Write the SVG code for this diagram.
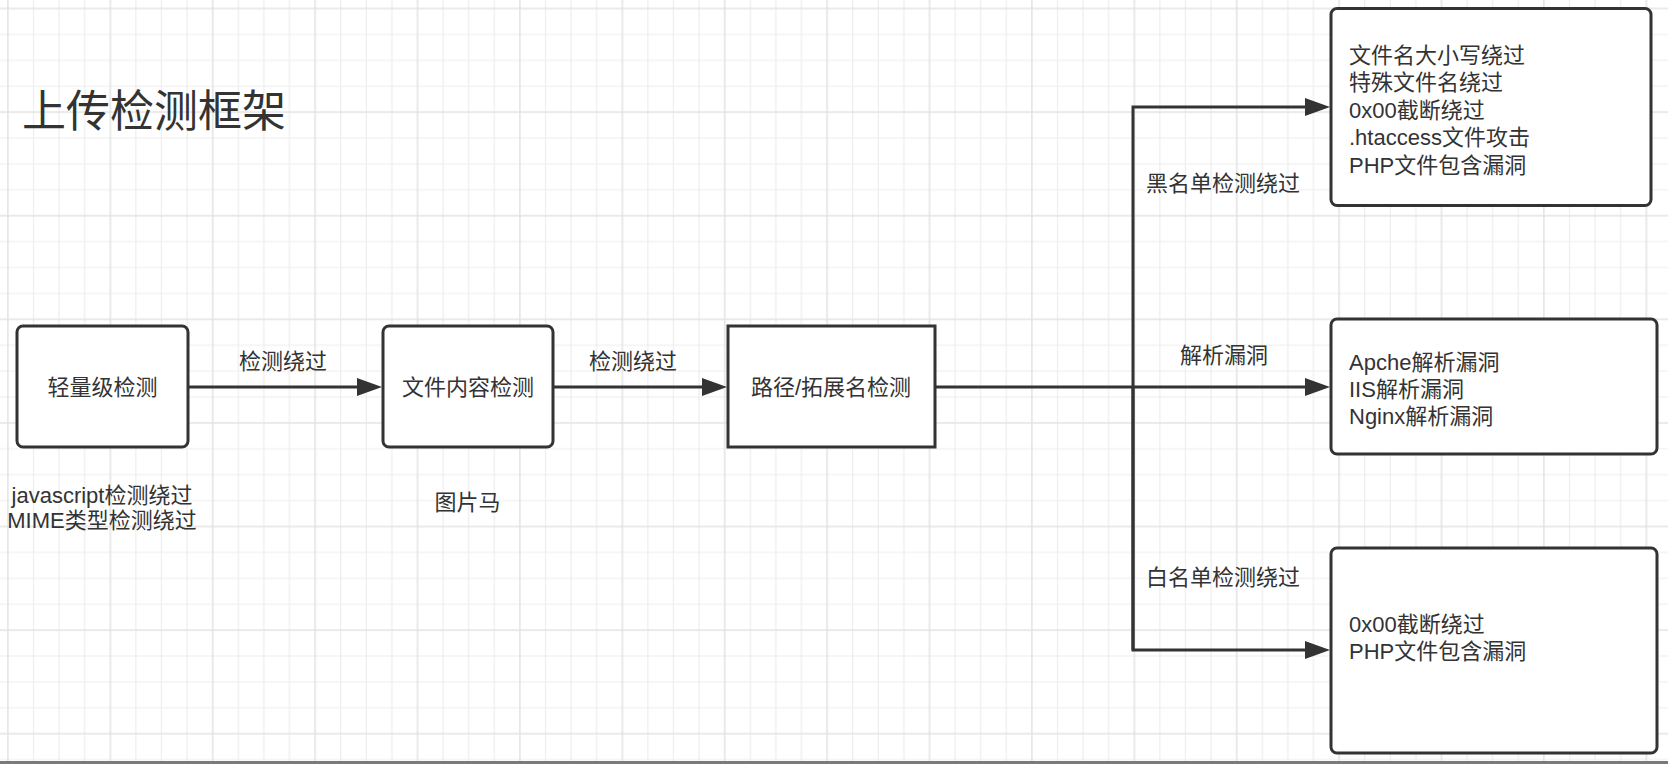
<svg xmlns="http://www.w3.org/2000/svg" width="1668" height="764" viewBox="0 0 1668 764">
  <style>
    text { font-family: "Liberation Sans", "Noto Sans CJK SC", sans-serif; fill: #333333; dominant-baseline: central; }
    .t { font-size: 22px; }
    .c { text-anchor: middle; }
    .title { font-size: 44px; }
    .box { fill: #ffffff; stroke: #333333; stroke-width: 3; }
    .edge { fill: none; stroke: #333333; stroke-width: 3; }
  </style>
  <defs>
    <pattern id="grid" patternUnits="userSpaceOnUse" x="-4.9" y="-4.45" width="102.4" height="103.6">
      <path d="M38.4 0V103.6M64 0V103.6M89.6 0V103.6M0 38.85H102.4M0 64.75H102.4M0 90.65H102.4" stroke="#ededed" stroke-width="1.2" fill="none"/>
      <path d="M12.8 0V103.6M0 12.95H102.4" stroke="#e3e3e3" stroke-width="1.5" fill="none"/>
    </pattern>
    <marker id="arrow" markerUnits="userSpaceOnUse" viewBox="0 0 25 18" refX="5" refY="9" markerWidth="25" markerHeight="18" orient="auto">
      <path d="M0 0L25 9L0 18Z" fill="#333333"/>
    </marker>
  </defs>
  <rect x="0" y="0" width="1668" height="764" fill="#ffffff"/>
  <rect x="0" y="0" width="1668" height="764" fill="url(#grid)"/>
  <rect x="0" y="761" width="1668" height="3" fill="#7a7a7a"/>

  <text class="title" x="22" y="111">上传检测框架</text>

  <g id="connectors">
    <path class="edge" d="M188 387H362" marker-end="url(#arrow)"/>
    <path class="edge" d="M553 387H707" marker-end="url(#arrow)"/>
    <path class="edge" d="M935 387H1310" marker-end="url(#arrow)"/>
    <path class="edge" d="M1133 650V107H1310" marker-end="url(#arrow)"/>
    <path class="edge" d="M1133 387V650H1310" marker-end="url(#arrow)"/>
    <text class="t c" x="283" y="361">检测绕过</text>
    <text class="t c" x="633" y="361">检测绕过</text>
    <text class="t c" x="1223" y="183">黑名单检测绕过</text>
    <text class="t c" x="1224" y="355">解析漏洞</text>
    <text class="t c" x="1223" y="577">白名单检测绕过</text>
  </g>

  <g id="light-check">
    <rect class="box" x="17" y="326" width="171" height="121" rx="6"/>
    <text class="t c" x="102.5" y="387">轻量级检测</text>
    <text class="t c" x="102" y="495">javascript检测绕过</text>
    <text class="t c" x="102" y="520">MIME类型检测绕过</text>
  </g>

  <g id="content-check">
    <rect class="box" x="383" y="326" width="170" height="121" rx="6"/>
    <text class="t c" x="468" y="387">文件内容检测</text>
    <text class="t c" x="467.5" y="502">图片马</text>
  </g>

  <g id="path-check">
    <rect class="box" x="728" y="326" width="207" height="121"/>
    <text class="t c" x="831" y="387">路径/拓展名检测</text>
  </g>

  <g id="blacklist">
    <rect class="box" x="1331" y="8.5" width="320" height="197" rx="6"/>
    <text class="t" x="1349" y="55">文件名大小写绕过</text>
    <text class="t" x="1349" y="82.5">特殊文件名绕过</text>
    <text class="t" x="1349" y="110">0x00截断绕过</text>
    <text class="t" x="1349" y="137.5">.htaccess文件攻击</text>
    <text class="t" x="1349" y="165">PHP文件包含漏洞</text>
  </g>

  <g id="parse-vuln">
    <rect class="box" x="1331" y="319" width="326" height="135" rx="6"/>
    <text class="t" x="1349" y="362">Apche解析漏洞</text>
    <text class="t" x="1349" y="389">IIS解析漏洞</text>
    <text class="t" x="1349" y="416">Nginx解析漏洞</text>
  </g>

  <g id="whitelist">
    <rect class="box" x="1331" y="548" width="326" height="205" rx="6"/>
    <text class="t" x="1349" y="624">0x00截断绕过</text>
    <text class="t" x="1349" y="651">PHP文件包含漏洞</text>
  </g>
</svg>
